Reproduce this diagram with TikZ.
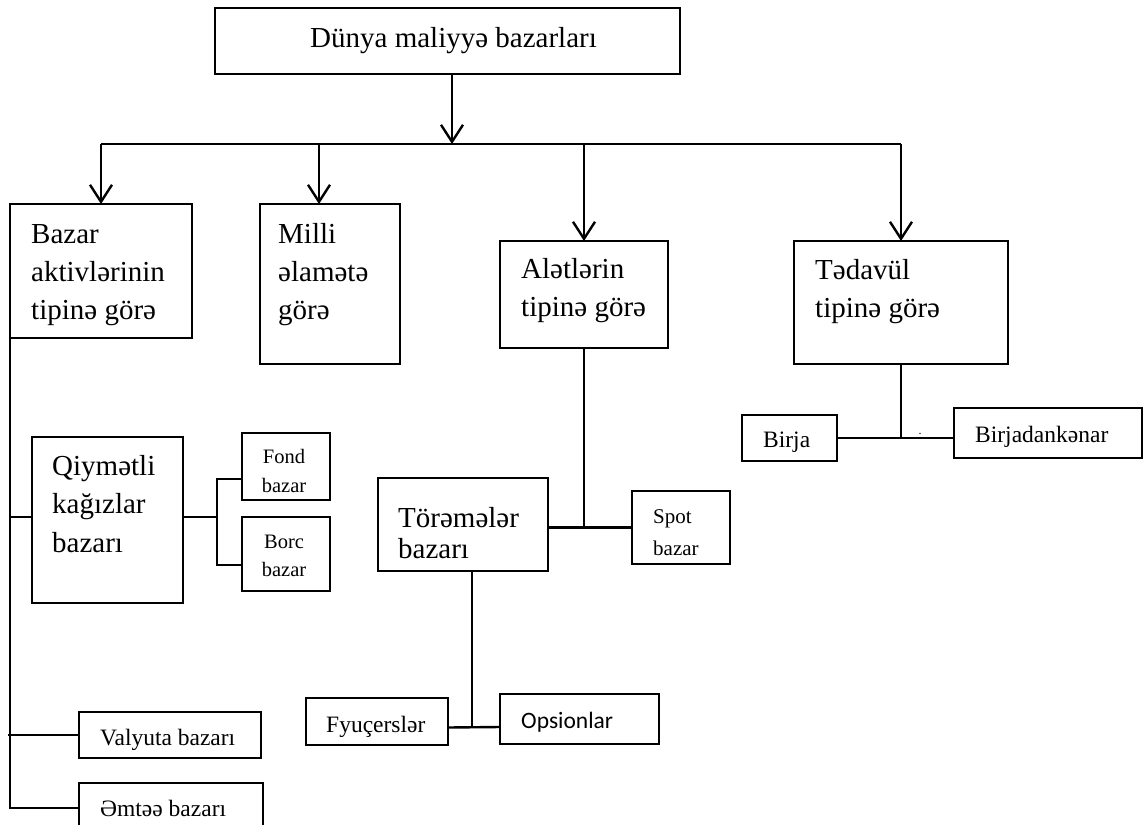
\documentclass[tikz,border=0pt]{standalone}
\usepackage{fontspec}
\setmainfont{Liberation Serif}
\newfontfamily\calibfont{Carlito}
\usetikzlibrary{arrows.meta}

% a framed box given by its corners (x1,y1)-(x2,y2), y measured downwards
\newcommand{\mkpanel}[5]{%
  \node[panel, minimum width={(#4-#2)*1pt}, minimum height={(#5-#3)*1pt}]
    (#1) at ({(#2+#4)/2},{(#3+#5)/2}) {};}

\tikzset{
  panel/.style={draw, line width=1.4pt, inner sep=0pt, outer sep=0pt},
  big/.style={inner sep=0pt, anchor=base west, align=left,
              font=\fontsize{29}{38}\selectfont},
  sm/.style={inner sep=0pt, anchor=base west, font=\fontsize{23.5}{28}\selectfont},
  xs/.style={inner sep=0pt, anchor=base, align=center},
  conn/.style={line width=2.4pt},
  arr/.style={conn, -{Straight Barb[length=17pt, width=22pt]}},
}

\begin{document}
\begin{tikzpicture}[x=1pt, y=-1pt]
\clip (0,0) rectangle (1144,825);

% boxes
\mkpanel{top}{215}{8}{680}{74}
\mkpanel{b1}{10}{204}{192}{338}
\mkpanel{b2}{260}{204}{400}{364}
\mkpanel{b3}{500}{241}{668}{348}
\mkpanel{b4}{794}{241}{1008}{364}
\mkpanel{birja}{742}{415}{837}{461}
\mkpanel{bdk}{954}{408}{1142}{458}
\mkpanel{tor}{378}{478}{548}{571}
\mkpanel{spot}{632}{491}{730}{564}
\mkpanel{fyu}{306}{698}{448}{745}
\mkpanel{ops}{500}{694}{659}{744}
\mkpanel{qiy}{32}{437}{183}{603}
\mkpanel{fond}{242}{433}{330}{500}
\mkpanel{borc}{242}{517}{330}{591}
\mkpanel{val}{79}{712}{261}{758}
\mkpanel{emt}{79}{783}{263}{833}

% texts (multi-line nodes sit on the baseline of their last line)
\node[big] (t-top) at (310,47) {Dünya maliyyə bazarları};
\node[big] (t-b1) at (31,319) {Bazar\\aktivlərinin\\tipinə görə};
\node[big] (t-b2) at (278,319) {Milli\\əlamətə\\görə};
\node[big] (t-b3) at (521,316) {Alətlərin\\tipinə görə};
\node[big] (t-b4) at (815,317) {Tədavül\\tipinə görə};
\node[big, font=\fontsize{29}{38.5}\selectfont] (t-qiy) at (52,552) {Qiymətli\\kağızlar\\bazarı};
\node[big, font=\fontsize{29}{31}\selectfont] (t-tor) at (398,558) {Törəmələr\\bazarı};
\node[xs, font=\fontsize{20.5}{29}\selectfont] (t-fond) at (284,492) {Fond\\bazar};
\node[xs, font=\fontsize{20.5}{28}\selectfont] (t-borc) at (284,576) {Borc\\bazar};
\node[big, font=\fontsize{21}{32}\selectfont] (t-spot) at (653,555) {Spot\\bazar};
\node[sm] (t-birja) at (763,447) {Birja};
\node[sm] (t-bdk) at (975,442) {Birjadankənar};
\node[sm] (t-fyu) at (326,732) {Fyuçerslər};
\node[sm, font=\calibfont\fontsize{23.5}{28}\selectfont] (t-ops) at (521,728) {Opsionlar};
\node[sm] (t-val) at (100,745) {Valyuta bazarı};
\node[sm] (t-emt) at (100,816) {Əmtəə bazarı};
\node[inner sep=0pt, anchor=base, font=\fontsize{12}{12}\selectfont] (t-dot) at (920,434) {.};

% top level distribution
\coordinate (hub) at (452,144);
\coordinate (tap2) at (319,144);
\draw[arr] (top.south -| hub) -- (hub);
\draw[conn] (b1.north |- hub) -- (b4.north |- hub);
\draw[arr] (b1.north |- hub) -- (b1.north);
\draw[arr] (tap2) -- (tap2 |- b2.north);
\draw[arr] (b3.north |- hub) -- (b3.north);
\draw[arr] (b4.north |- hub) -- (b4.north);

% market assets branch
\coordinate (qw) at ([yshift=3pt]qiy.west);
\coordinate (qe) at ([yshift=3pt]qiy.east);
\coordinate (fw) at ([yshift=-12.5pt]fond.west);
\coordinate (bw) at ([yshift=-11pt]borc.west);
\draw[conn] (b1.south west) -- (b1.south west |- emt.west) -- (emt.west);
\draw[conn] (qw -| b1.south west) -- (qw);
\draw[conn] (val.west -| b1.south west) ++(-2,0) -- (val.west);
\draw[conn] (qe) -- ++(34,0);
\draw[conn] (fw) -- ++(-25,0) |- (bw);

% derivatives branch
\coordinate (tj) at ([xshift=9pt]tor.south);
\coordinate (fj) at ([yshift=-6pt]fyu.east);
\coordinate (oj) at ([yshift=-8pt]ops.west);
\draw[conn] (b3.south) -- (b3.south |- spot.west);
\draw[conn] (tor.east |- spot.west) -- (spot.west);
\draw[conn] (tj) -- (tj |- fj);
\draw[conn] (fj) -- (oj);

% circulation branch
\draw[conn] (b4.south) -- (b4.south |- birja.east);
\draw[conn] (birja.east) -- (birja.east -| bdk.west);
\end{tikzpicture}
\end{document}
